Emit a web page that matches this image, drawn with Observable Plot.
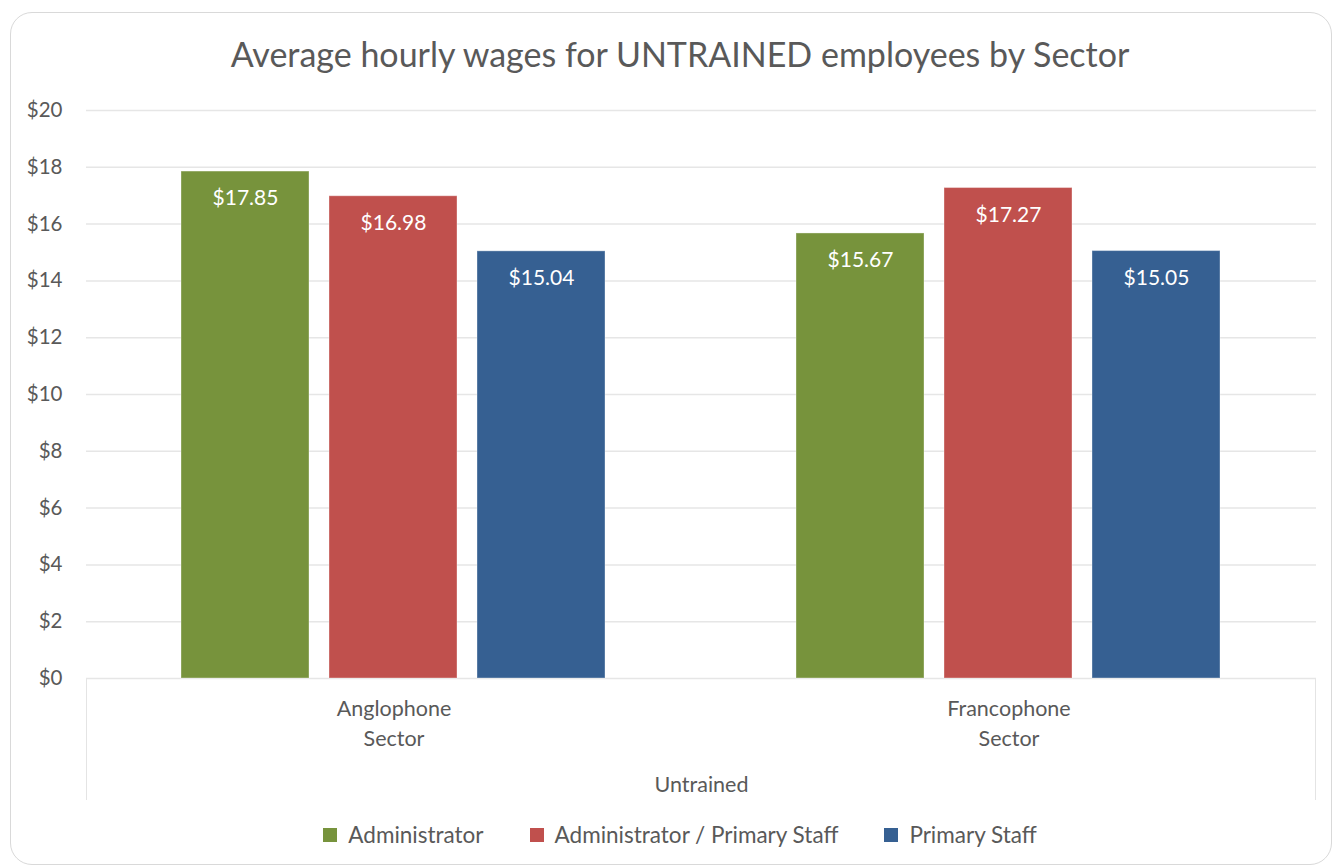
<!DOCTYPE html>
<html>
<head>
<meta charset="utf-8">
<script src="https://cdn.jsdelivr.net/npm/d3@7"></script>
<script src="https://cdn.jsdelivr.net/npm/@observablehq/plot@0.6"></script>
<style>
  html, body { margin: 0; padding: 0; background: #fff; }
  body { width: 1333px; height: 867px; position: relative; overflow: hidden; font-family: Lato, "Open Sans", sans-serif; color: #595959; }
  #card { position: absolute; left: 10px; top: 12px; width: 1322px; height: 853px; border: 1.5px solid #d9d9d9; border-radius: 22px; box-sizing: border-box; }
  #title { position: absolute; left: 0; width: 1360px; top: 33px; text-align: center; font-size: 34px; color: #595959; white-space: nowrap; }
  #chart { position: absolute; left: 0; top: 0; }
  #catbox { position: absolute; left: 86px; top: 678px; width: 1230px; height: 122px; border-left: 1.5px solid #e4e4e4; border-right: 1.5px solid #e4e4e4; box-sizing: border-box; }
  #legend { position: absolute; left: 0; width: 1360px; top: 821px; display: flex; justify-content: center; gap: 46px; font-size: 22.5px; }
  .item { display: flex; align-items: center; gap: 11px; }
  .sw { width: 14px; height: 14px; display: inline-block; }
</style>
</head>
<body>
<div id="card"></div>
<div id="title">Average hourly wages for UNTRAINED employees by Sector</div>
<div id="catbox"></div>
<div id="chart"></div>
<div id="legend"></div>
<script>
const sectors = ["Anglophone\nSector", "Francophone\nSector"];
const series = ["Administrator", "Administrator / Primary Staff", "Primary Staff"];
const colors = ["#77933C", "#C0504D", "#366092"];
const anglophoneValues = [17.85, 16.98, 15.04];
const francophoneValues = [15.67, 17.27, 15.05];
const yTicks = [0, 2, 4, 6, 8, 10, 12, 14, 16, 18, 20];
const groupLabel = "Untrained";

const valuesBySector = [anglophoneValues, francophoneValues];
const data = [];
sectors.forEach((s, i) => series.forEach((k, j) => data.push({sector: s, series: k, value: valuesBySector[i][j]})));

const chart = Plot.plot({
  width: 1333,
  height: 800,
  marginLeft: 86,
  marginRight: 17,
  marginTop: 110,
  marginBottom: 122,
  style: {fontFamily: "Lato, 'Open Sans', sans-serif", color: "#595959", background: "transparent", overflow: "visible"},
  fx: {domain: sectors, padding: 0},
  x: {domain: series, paddingInner: 0.135, paddingOuter: 0.645, axis: null},
  y: {domain: [0, 20], ticks: yTicks},
  color: {domain: series, range: colors},
  marks: [
    Plot.gridY(yTicks, {stroke: "#e6e6e6", strokeOpacity: 1, strokeWidth: 1.5}),
    Plot.axisY(yTicks, {tickSize: 0, tickPadding: 24, fontSize: 20.5, tickFormat: d => "$" + d, label: null, fill: "#595959"}),
    Plot.axisFx({anchor: "bottom", tickSize: 0, tickPadding: 17, fontSize: 21.5, lineHeight: 1.36, label: groupLabel, labelAnchor: "center", labelOffset: 113, labelArrow: "none", fill: "#595959"}),
    Plot.barY(data, {fx: "sector", x: "series", y: "value", fill: "series", stroke: "white", strokeOpacity: 0.35, strokeWidth: 1}),
    Plot.text(data, {fx: "sector", x: "series", y: "value", text: d => "$" + d.value.toFixed(2), fill: "white", fontSize: 21, dy: 27})
  ]
});
document.getElementById("chart").appendChild(chart);

const legend = document.getElementById("legend");
series.forEach((s, i) => {
  const item = document.createElement("div");
  item.className = "item";
  const sw = document.createElement("span");
  sw.className = "sw";
  sw.style.background = colors[i];
  const t = document.createElement("span");
  t.textContent = s;
  item.appendChild(sw);
  item.appendChild(t);
  legend.appendChild(item);
});
</script>
</body>
</html>
